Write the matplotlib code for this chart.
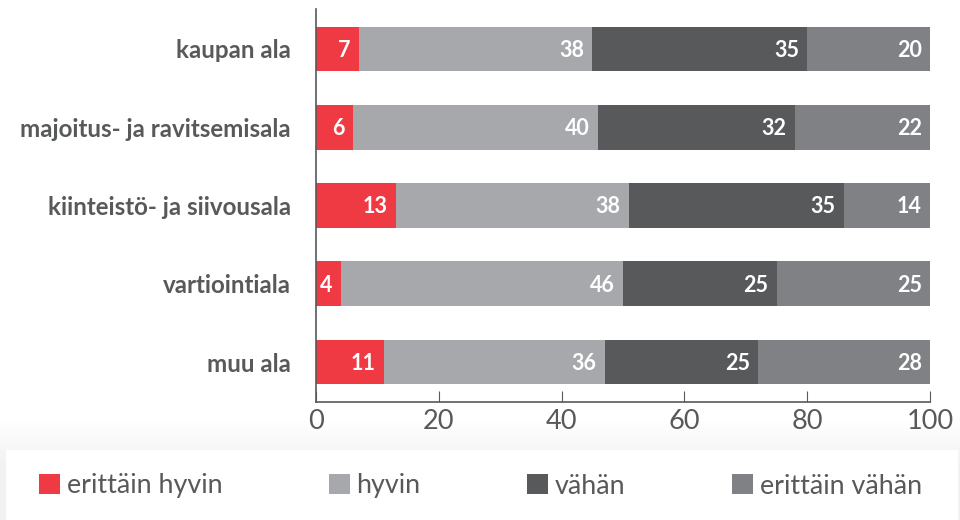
import matplotlib.pyplot as plt
import matplotlib as mpl
from matplotlib.patches import Rectangle
import numpy as np

mpl.rcParams.update({
    'font.family': ['Lato', 'DejaVu Sans'],
    'text.color': '#58595b',
    'axes.edgecolor': '#58595b',
    'xtick.color': '#58595b',
    'ytick.color': '#58595b',
})

categories = ['kaupan ala', 'majoitus- ja ravitsemisala', 'kiinteistö- ja siivousala',
              'vartiointiala', 'muu ala']
series_names = ['erittäin hyvin', 'hyvin', 'vähän', 'erittäin vähän']
erittain_hyvin = [7, 6, 13, 4, 11]
hyvin = [38, 40, 38, 46, 36]
vahan = [35, 32, 35, 25, 25]
erittain_vahan = [20, 22, 14, 25, 28]
xticks = [0, 20, 40, 60, 80, 100]

colors = ['#ef3a43', '#a7a8ab', '#58595b', '#808184']
series = [erittain_hyvin, hyvin, vahan, erittain_vahan]

fig = plt.figure(figsize=[9.6, 5.2], dpi=100)

# bottom band: soft grey gradient with a white legend box on top
bg = fig.add_axes([0, 0, 1, 100/520], zorder=-2)
grad = np.linspace(0, 1, 100)[:, None]
bg.imshow(grad, cmap=mpl.colors.LinearSegmentedColormap.from_list('g', ['#f0f1f1', '#f0f1f1', '#ffffff']),
          aspect='auto', extent=[0, 1, 0, 1], origin='lower')
bg.add_patch(Rectangle((6/960, 0), 952/960, 70/100, facecolor='white', edgecolor='none'))
bg.set_axis_off()

ax = fig.add_axes([316/960, 118/520, 614/960, 393/520])
y = np.arange(len(categories))
left = np.zeros(len(categories))
for vals, col, name in zip(series, colors, series_names):
    vals = np.array(vals, dtype=float)
    ax.barh(y, vals, left=left, height=0.57, color=col, label=name)
    for yi, l, v in zip(y, left, vals):
        ax.annotate(str(int(v)), xy=(l + v, yi), xytext=(-6, -1), textcoords='offset points',
                    ha='right', va='center', color='white', fontsize=15.5, fontweight='bold')
    left += vals

ax.set_xlim(0, 100)
ax.set_ylim(len(categories) - 0.49, -0.51)
ax.set_yticks(y)
ax.set_yticklabels(categories, fontsize=17.4, fontweight='bold')
ax.tick_params(axis='y', length=0, pad=18)
ax.set_xticks(xticks)
ax.tick_params(axis='x', direction='in', length=8, labelsize=19.5, pad=5)
for s in ['top', 'right']:
    ax.spines[s].set_visible(False)
ax.spines['left'].set_linewidth(1.2)
ax.spines['bottom'].set_linewidth(1.2)
ax.set_facecolor('none')

handles, labels = ax.get_legend_handles_labels()
fig.legend(handles, labels, ncol=4, loc='center left', bbox_to_anchor=(28/960, 34/520),
           frameon=False, fontsize=19.4, handlelength=0.78, handleheight=0.8,
           handletextpad=0.26, columnspacing=3.94, borderaxespad=0)

fig.savefig('out.png', dpi=100)
